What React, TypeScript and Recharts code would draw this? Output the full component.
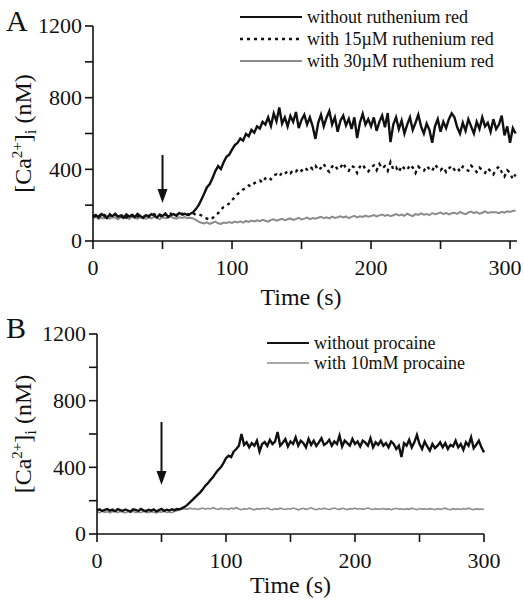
import { Legend, Line, LineChart, ReferenceDot, ReferenceLine, XAxis, YAxis } from "recharts";

const SERIF = "'Liberation Serif', serif";
const STEP = 2; // seconds between samples

// panel A: [Ca2+]i (nM), sampled every 2 s from 0 to 304 s
const withoutRuthenium = [
  138, 145, 132, 150, 141, 128, 147, 139, 152, 135,
  143, 130, 149, 137, 146, 133, 151, 140, 129, 144,
  136, 150, 142, 131, 148, 139, 154, 135, 145, 150,
  141, 156, 148, 152, 145, 152, 160, 178, 200, 232,
  265, 300, 318, 352, 390, 418, 402, 440, 470, 482,
  510, 535, 548, 572, 560, 598, 585, 620, 605, 640,
  628, 665, 650, 690, 642, 712, 668, 745, 655, 690,
  640, 698, 665, 720, 630, 676, 705, 650, 690, 640,
  570, 660, 705, 640, 688, 725, 650, 690, 610, 672,
  700, 645, 682, 625, 690, 575, 660, 710, 650, 680,
  640, 690, 615, 665, 700, 635, 714, 552, 650, 690,
  625, 672, 600, 650, 690, 620, 660, 705, 640, 600,
  655, 620, 548, 640, 680, 610, 665, 630, 680, 712,
  690, 635, 600, 660, 615, 680, 640, 600, 665, 625,
  690, 640, 660, 610, 680, 625, 650, 700, 590, 640,
  548, 630, 600,
];
const with15Ruthenium = [
  142, 135, 148, 130, 145, 138, 150, 133, 146, 140,
  135, 149, 131, 144, 139, 152, 136, 143, 130, 147,
  141, 134, 150, 138, 145, 132, 148, 140, 153, 137,
  146, 139, 152, 143, 150, 141, 155, 146, 150, 142,
  132, 125, 118, 128, 140, 155, 175, 190, 198, 210,
  228, 245, 262, 275, 288, 296, 310, 305, 322, 330,
  338, 326, 350, 358, 345, 366, 372, 360, 382, 375,
  390, 378, 396, 388, 405, 392, 410, 398, 415, 402,
  420, 395, 408, 430, 400, 386, 415, 425, 398, 410,
  435, 405, 392, 420, 410, 380, 415, 428, 400, 388,
  410, 422, 395, 430, 405, 418, 392, 440, 400, 412,
  385, 420, 405, 395, 425, 410, 380, 415, 400, 392,
  418, 402, 390, 425, 408, 395, 412, 385, 405, 420,
  398, 410, 388, 415, 400, 392, 420, 405, 385, 410,
  395, 380, 405, 390, 372, 400, 415, 385, 360, 395,
  380, 345, 372,
];
const with30Ruthenium = [
  128, 135, 122, 131, 126, 138, 124, 133, 129, 121,
  134, 127, 131, 123, 136, 128, 125, 132, 130, 124,
  131, 126, 135, 129, 122, 133, 127, 130, 136, 128,
  125, 132, 129, 134, 127, 130, 126, 118, 108, 102,
  98, 104, 96, 102, 108, 99, 95, 103, 100, 106,
  101, 108, 104, 110, 103, 112, 107, 114, 109, 116,
  111, 118, 113, 108, 117, 121, 114, 119, 124, 116,
  121, 126, 118, 123, 129, 120, 125, 131, 122, 128,
  124, 130, 135, 127, 132, 126, 136, 129, 133, 138,
  131, 137, 128, 135, 140, 132, 138, 134, 142, 136,
  139, 145, 137, 143, 148, 140, 146, 138, 144, 150,
  143, 148, 141, 152, 145, 139, 150, 146, 154, 147,
  151, 144, 156, 149, 153, 160, 150, 157, 148, 155,
  158, 151, 162, 155, 150, 159, 164, 156, 161, 153,
  158, 165, 157, 160, 160, 160, 155, 163, 158, 166,
  162, 168, 170,
];

// panel B: sampled every 2 s from 0 to 300 s
const withoutProcaine = [
  142, 148, 138, 145, 150, 140, 146, 136, 149, 143,
  139, 147, 141, 135, 148, 144, 138, 150, 142, 137,
  145, 140, 148, 136, 143, 150, 139, 146, 141, 148,
  143, 150, 148, 155, 163, 175, 190, 205, 220, 235,
  250, 268, 290, 305, 325, 342, 365, 385, 400, 425,
  455, 470, 462, 495, 510, 530, 600, 535, 550, 520,
  545, 530, 560, 495, 540, 552, 528, 565, 540, 555,
  612, 530, 548, 570, 525, 555, 540, 580, 530, 560,
  545, 520, 570, 535, 560, 528, 550, 575, 535, 545,
  565, 530, 555, 540, 590, 525, 560, 545, 530, 570,
  540, 555, 525, 560, 548, 530, 575, 520, 550, 535,
  560, 530, 545, 520, 555, 540, 510, 530, 462, 545,
  530, 565, 520, 550, 594, 540, 510, 555, 525, 500,
  540, 515, 530, 550, 520, 545, 510, 535, 525, 560,
  520, 540, 505, 550, 530, 580, 515, 535, 560, 520,
  490,
];
const with10Procaine = [
  132, 128, 136, 130, 134, 127, 133, 138, 129, 135,
  131, 127, 134, 130, 136, 128, 132, 129, 135, 131,
  128, 134, 130, 126, 133, 131, 137, 129, 132, 128,
  135, 140, 146, 150, 152, 148, 155, 150, 153, 147,
  152, 156, 149, 154, 150, 158, 151, 147, 155, 150,
  153, 148, 156, 151, 158, 150, 146, 152, 149, 155,
  150, 145, 152, 148, 154, 150, 156, 149, 146, 152,
  148, 155, 150, 147, 153, 149, 156, 151, 145, 150,
  154, 148, 152, 157, 150, 146, 153, 149, 155, 150,
  147, 152, 156, 150, 148, 154, 151, 146, 152, 150,
  155, 149, 153, 148, 151, 156, 150, 147, 152, 149,
  150, 153, 148, 152, 146, 150, 154, 149, 151, 147,
  152, 148, 155, 150, 146, 153, 149, 151, 147, 152,
  150, 146, 153, 148, 151, 155, 149, 146, 152, 148,
  151, 147, 153, 149, 155, 150, 146, 152, 148, 150,
  147,
];

const yTicks = [0, 200, 400, 600, 800, 1000, 1200];
const xTicks = [0, 50, 100, 150, 200, 250, 300];
const arrowA = { t: 50, from: 480, to: 212 };
const arrowB = { t: 50, from: 672, to: 294 };

const legendA = [
  { label: "without ruthenium red", color: "#111", dash: undefined, width: 2.2 },
  { label: "with 15\u00b5M ruthenium red", color: "#111", dash: "3 4", width: 2.4 },
  { label: "with 30\u00b5M ruthenium red", color: "#8c8c8c", dash: undefined, width: 2 },
];
const legendB = [
  { label: "without procaine", color: "#111", dash: undefined, width: 2.2 },
  { label: "with 10mM procaine", color: "#8c8c8c", dash: undefined, width: 1.6 },
];

const dataA = withoutRuthenium.map((v, i) => ({
  t: i * STEP,
  without: v,
  ru15: with15Ruthenium[i],
  ru30: with30Ruthenium[i],
}));
const dataB = withoutProcaine.map((v, i) => ({
  t: i * STEP,
  without: v,
  proc: with10Procaine[i],
}));

const axisStroke = { stroke: "#111", strokeWidth: 1.6 };
const textStyle = { fontFamily: SERIF };

function XTick(props: any) {
  const { x, y, payload, lastShift = 0 } = props;
  const v = payload.value;
  if (v % 100 !== 0) return null;
  const dx = v === 300 ? lastShift : 0;
  return (
    <text x={x + dx} y={y} dy="0.75em" textAnchor="middle" fontSize={22} fill="#111" style={textStyle}>
      {v}
    </text>
  );
}

function YTick(props: any) {
  const { x, y, payload } = props;
  const v = payload.value;
  if (v % 400 !== 0) return null;
  return (
    <text x={x} y={y} dy="0.34em" textAnchor="end" fontSize={22} fill="#111" style={textStyle}>
      {v}
    </text>
  );
}

function XLabel(props: any) {
  const vb = props.viewBox || { x: 0, y: 0, width: 0, height: 0 };
  return (
    <text
      x={vb.x + vb.width / 2 - (props.shift || 0)}
      y={vb.y + props.base}
      textAnchor="middle"
      fontSize={24}
      fill="#111"
      style={textStyle}
    >
      Time (s)
    </text>
  );
}

function YLabel(props: any) {
  const vb = props.viewBox || { y: 0, height: 0 };
  const cy = vb.y + vb.height / 2;
  return (
    <text transform={`translate(31, ${cy}) rotate(-90)`} textAnchor="middle" fontSize={24} fill="#111" style={textStyle}>
      <tspan>[Ca</tspan>
      <tspan dy={-9} fontSize={15}>2+</tspan>
      <tspan dy={9}>]</tspan>
      <tspan dy={5} fontSize={17}>i</tspan>
      <tspan dy={-5}> (nM)</tspan>
    </text>
  );
}

function ArrowHead(props: any) {
  const { cx, cy } = props;
  return <path d={`M${cx},${cy} L${cx - 5},${cy - 14} L${cx + 5},${cy - 14} Z`} fill="#111" />;
}

function LegendBox({ items, lineW, rowH }: { items: typeof legendA; lineW: number; rowH: number }) {
  return (
    <svg width={285} height={items.length * rowH} style={{ display: "block", overflow: "visible" }}>
      {items.map((it, i) => {
        const cy = i * rowH + rowH / 2;
        return (
          <g key={it.label}>
            <line
              x1={0}
              x2={lineW}
              y1={cy}
              y2={cy}
              stroke={it.color}
              strokeWidth={it.width}
              strokeDasharray={it.dash}
            />
            <text x={lineW + 5} y={cy} dy="0.33em" fontSize={18} fill="#111" style={textStyle}>
              {it.label}
            </text>
          </g>
        );
      })}
    </svg>
  );
}

function PanelLetter({ text, baseline }: { text: string; baseline: number }) {
  return (
    <svg width={40} height={40} style={{ position: "absolute", left: 0, top: baseline - 32 }}>
      <text x={6} y={32} fontSize={30} fill="#111" style={textStyle}>
        {text}
      </text>
    </svg>
  );
}

export default function App() {
  return (
    <div
      style={{
        position: "absolute",
        left: 0,
        top: 0,
        width: 524,
        height: 601,
        background: "#fff",
        fontFamily: SERIF,
        overflow: "hidden",
      }}
    >
      <div style={{ position: "absolute", left: 0, top: 0 }}>
        <LineChart
          width={524}
          height={312}
          data={dataA}
          margin={{ top: 26, right: 7, left: 0, bottom: 0 }}
          style={{ overflow: "visible" }}
        >
          <XAxis
            dataKey="t"
            type="number"
            domain={[0, 305]}
            ticks={xTicks}
            interval={0}
            tick={<XTick lastShift={-5} />}
            tickSize={8}
            tickMargin={9}
            axisLine={axisStroke}
            tickLine={axisStroke}
            height={71}
            label={<XLabel base={64} shift={4} />}
          />
          <YAxis
            domain={[0, 1200]}
            ticks={yTicks}
            interval={0}
            tick={<YTick />}
            tickSize={8}
            tickMargin={3}
            axisLine={axisStroke}
            tickLine={axisStroke}
            width={93}
            label={<YLabel />}
          />
          <Legend
            layout="horizontal"
            verticalAlign="middle"
            align="center"
            wrapperStyle={{ top: 6, left: 240, width: 285 }}
            content={() => <LegendBox items={legendA} lineW={62} rowH={22} />}
          />
          <Line dataKey="ru30" stroke="#8c8c8c" strokeWidth={2} dot={false} isAnimationActive={false} />
          <Line dataKey="ru15" stroke="#111" strokeWidth={2.4} strokeDasharray="3 4" dot={false} isAnimationActive={false} />
          <Line dataKey="without" stroke="#111" strokeWidth={2.4} dot={false} isAnimationActive={false} />
          <ReferenceLine
            segment={[{ x: arrowA.t, y: arrowA.from }, { x: arrowA.t, y: arrowA.to + 40 }]}
            stroke="#111"
            strokeWidth={2}
          />
          <ReferenceDot x={arrowA.t} y={arrowA.to} shape={<ArrowHead />} />
        </LineChart>
      </div>
      <div style={{ position: "absolute", left: 0, top: 300 }}>
        <LineChart
          width={524}
          height={301}
          data={dataB}
          margin={{ top: 34, right: 40, left: 0, bottom: 0 }}
          style={{ overflow: "visible" }}
        >
          <XAxis
            dataKey="t"
            type="number"
            domain={[0, 300]}
            ticks={xTicks}
            interval={0}
            tick={<XTick />}
            tickSize={8}
            tickMargin={9}
            axisLine={axisStroke}
            tickLine={axisStroke}
            height={67}
            label={<XLabel base={59} shift={0} />}
          />
          <YAxis
            domain={[0, 1200]}
            ticks={yTicks}
            interval={0}
            tick={<YTick />}
            tickSize={8}
            tickMargin={3}
            axisLine={axisStroke}
            tickLine={axisStroke}
            width={97}
            label={<YLabel />}
          />
          <Legend
            layout="horizontal"
            verticalAlign="middle"
            align="center"
            wrapperStyle={{ top: 33, left: 267, width: 240 }}
            content={() => <LegendBox items={legendB} lineW={42} rowH={20} />}
          />
          <Line dataKey="proc" stroke="#8c8c8c" strokeWidth={1.6} dot={false} isAnimationActive={false} />
          <Line dataKey="without" stroke="#111" strokeWidth={2.4} dot={false} isAnimationActive={false} />
          <ReferenceLine
            segment={[{ x: arrowB.t, y: arrowB.from }, { x: arrowB.t, y: arrowB.to + 40 }]}
            stroke="#111"
            strokeWidth={2}
          />
          <ReferenceDot x={arrowB.t} y={arrowB.to} shape={<ArrowHead />} />
        </LineChart>
      </div>
      <PanelLetter text="A" baseline={31} />
      <PanelLetter text="B" baseline={338} />
    </div>
  );
}
